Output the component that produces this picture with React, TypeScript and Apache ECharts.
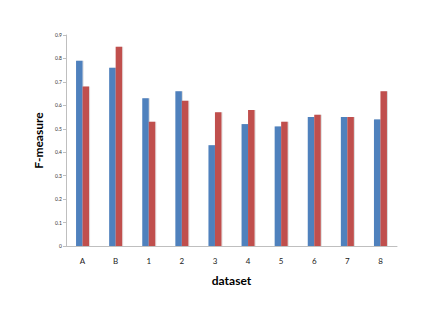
import React, { useEffect, useRef } from "react";
import * as echarts from "echarts";

const categories = ["A", "B", "1", "2", "3", "4", "5", "6", "7", "8"];
const seriesBlue = [0.79, 0.76, 0.63, 0.66, 0.43, 0.52, 0.51, 0.55, 0.55, 0.54];
const seriesRed = [0.68, 0.85, 0.53, 0.62, 0.57, 0.58, 0.53, 0.56, 0.55, 0.66];

export default function App() {
  const ref = useRef<HTMLDivElement>(null);
  useEffect(() => {
    const chart = echarts.init(ref.current!, null, { renderer: "svg" });
    chart.setOption({
      animation: false,
      backgroundColor: "#ffffff",
      grid: { left: 66, right: 39, top: 35, bottom: 81, containLabel: false },
      xAxis: {
        type: "category",
        data: categories,
        name: "dataset",
        nameLocation: "middle",
        nameGap: 28,
        nameTextStyle: { fontFamily: "Lato", fontWeight: "bold", fontSize: 12, color: "#000" },
        axisLine: { lineStyle: { color: "#BFBFBF", width: 1 } },
        axisTick: { show: false },
        axisLabel: { fontFamily: "Lato", fontSize: 8, color: "#222", margin: 11 },
      },
      yAxis: {
        type: "value",
        min: 0,
        max: 0.9,
        interval: 0.1,
        name: "F-measure",
        nameLocation: "middle",
        nameRotate: 90,
        nameGap: 18,
        nameTextStyle: { fontFamily: "Lato", fontWeight: "bold", fontSize: 12, color: "#000" },
        axisLine: { show: true, lineStyle: { color: "#BFBFBF", width: 1 } },
        axisTick: { show: true, length: 3, lineStyle: { color: "#BFBFBF" } },
        splitLine: { show: false },
        axisLabel: { fontFamily: "Lato", fontSize: 5, color: "#333", margin: 4 },
      },
      series: [
        {
          type: "bar",
          data: seriesBlue,
          barWidth: 6.5,
          barGap: "0%",
          itemStyle: { color: "#4F81BD", shadowColor: "rgba(0,0,0,0.15)", shadowOffsetX: 1, shadowBlur: 1 },
        },
        {
          type: "bar",
          data: seriesRed,
          barWidth: 6.5,
          barGap: "0%",
          itemStyle: { color: "#C0504D", shadowColor: "rgba(0,0,0,0.15)", shadowOffsetX: 1, shadowBlur: 1 },
        },
      ],
    });
    return () => chart.dispose();
  }, []);
  return (
    <div
      ref={ref}
      style={{ position: "absolute", left: 0, top: 0, width: 436, height: 327 }}
    />
  );
}
